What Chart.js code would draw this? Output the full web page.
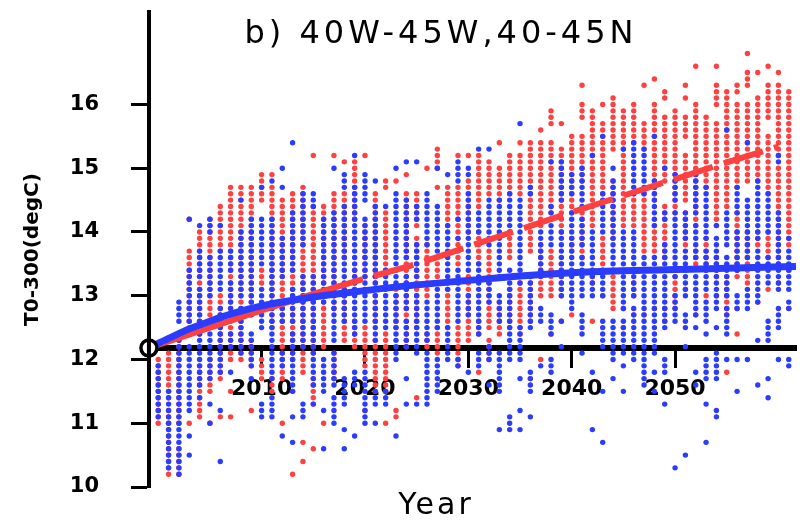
<!DOCTYPE html>
<html>
<head>
<meta charset="utf-8">
<script src="https://cdn.jsdelivr.net/npm/chart.js@4.4.1/dist/chart.umd.min.js"></script>
<style>
  html, body { margin: 0; padding: 0; background: #fff; }
  canvas { display: block; }
</style>
</head>
<body>
<canvas id="chart" width="800" height="522"></canvas>
<script>
// ensemble columns, one per year from firstYear; runs are in tenths of degC ("a-b" = every 0.1 from a to b)
const firstYear = 2000;
const redColumns = [
  "110-120", "102-112,114-121", "102-106,110-124", "110,124-137,142", "111-119,124-140",
  "110,115-120,126-142", "111,117-130,137-144", "111,115,120-147", "120-147", "112,119-123,127-147",
  "117-120,132-134,145-149", "115-117,125-147,149", "110,117-145", "102,115,120-146", "104,107,118-147",
  "106,113-117,121-144,152", "110,122-129,131-144", "117-121,128-146,152", "123-130,136-146,151", "122-126,131-134,142-151",
  "112,119-125,133-141,152", "115-123,126-146", "110,115-124,134-143,147-148", "111-112,125-131,148", "122-146,149",
  "114,125-139,141-146", "122-124,130-138,150", "121-125,133-136,147,150-153", "125-131,141-147", "119-125,135-147,152",
  "123-133,140-148,152", "118,124-126,135-140,144-152", "120-123,125-137,146-151", "124-129,145-150,154", "125-131,136-140,146-152",
  "124-132,146-152,154", "117,126-133,137-154", "120,130-138,141-154,156", "124,130-137,143-154,157-159", "126,130-135,140-153,157",
  "127,137-139,143-155", "136-143,148-155,158-160,163", "126,132-134,141-159", "130,134-139,146-157,160", "128-134,139-148,153-161",
  "125,128,141-159", "127,130-132,141-146,154-160", "127,137-146,153-157,163", "128,137-141,145-160,164", "126,128,136-144,148-158,161-162",
  "128-133,143-159", "131,138-143,145-152,155-158,161,163", "127,135-137,141-160,166", "130,134-139,147-158", "130,133-136,141-157,160-163,166",
  "118,127-133,144-162", "124,128,133-143,147-160,162-163", "132-140,148-160,163-165,168", "129,138-140,148-161,165", "131,136-140,146-155,158-163,166",
  "132,135-150,152-163,165", "128,134,138-162"
];
const blueColumns = [
  "111-119", "103-115", "102-123,126-129", "105,108,112-122,126-134,142", "114,116-131,133-137,141",
  "110,113,117-126,130-136,140-142", "104,112,118-128,131-137,141", "118,122-124,127-132,134-137", "121-128,130-140,145", "117,119-124,127-142",
  "111-113,125-131,135-142,147", "111-114,117-142,148", "108,119-121,126-128,133-139,147,150", "107,111,115-124,126-131,134-143,154", "111-113,122-133,138-146",
  "113,116-133,144-146", "106,112,115-120,129-142", "110-114,116-121,123-143,150", "106,109,113-117,126-144,147-149", "108,116-118,124-147,152",
  "110-118,126-142,145-149", "110,113-115,123-144,148", "113-115,125-134,144", "108,120-130,132-146,150", "113,117,122-126,128-133,136-145,151",
  "113,121-130,133-138,142-144,151", "113-121,123-129,138-146", "115-120,125-132,137-144,150", "120-125,131-141,149", "119-120,126-134,139,142,148-151",
  "118,127-130,134-146,149-150", "119-121,124-135,140-143,153", "116,120-122,129-132,138-145,153", "109,115-121,126-130,133-145", "109-111,120-134,140-146",
  "109,112,117,120-125,132-145,157", "111,115-118,125-133,146-147", "119,126-128,133-140", "118-120,124-127,138-144,151", "122,126,130-140,145-151",
  "128-143,146-149", "121,124-127,130-136,138-142,144-150", "109,118,130-140,152", "107,115,122-126,130-134,140-146,155", "117,120-126,134-148,150",
  "115,119,121-126,128-140,153", "120-128,130-140,146-154", "116-120,121-136,146-153", "115,118,121-136,141-148,155", "113,118-120,125-138,142-143,150",
  "103,126-130,133-143,145-149", "105,122,125-127,130-137,139-143", "116,118,125,127-133,136-141,143-149", "107,113,117-120,124,126-129,131-137,139-147", "111-112,117-121,125,128-139,141",
  "120,124-128,130-136,138-143,156", "115,120,128-130,134-140,143-147", "120,128-131,136-145,154", "116,123,129-137,139-148", "114,117,123-126,132-136,140-146",
  "120,125-128,131-143,151-152", "119-120,128-129,131-137,139"
];

// fitted curves
const redTrendYears = [1999.1, 2005, 2010, 2015, 2019.8, 2025, 2030, 2035, 2040, 2045, 2050, 2055, 2060];
const redTrend      = [12.18, 12.5, 12.77, 13.03, 13.26, 13.5, 13.77, 14.04, 14.31, 14.57, 14.83, 15.09, 15.34];
const blueTrendYears = [1999.1, 2001, 2003, 2005, 2007, 2010, 2015, 2020, 2025, 2030, 2035, 2040, 2045, 2050, 2055, 2061.7];
const blueTrend      = [12.18, 12.33, 12.48, 12.6, 12.71, 12.84, 12.98, 13.08, 13.17, 13.24, 13.31, 13.36, 13.39, 13.41, 13.43, 13.46];
const dashFrom = 2019.8;

const startYear = 1999.1;
const startValue = 12.18;
const xTicks = [2010, 2020, 2030, 2040, 2050];
const yTicks = [10, 11, 12, 13, 14, 15, 16];

const panelTitle = 'b) 40W-45W,40-45N';
const xTitle = 'Year';
const yTitle = 'T0-300(degC)';

const FONT = '"DejaVu Sans", sans-serif';

function expandColumns(cols) {
  const pts = [];
  cols.forEach((str, i) => {
    str.split(',').forEach(run => {
      const [a, b] = run.split('-').map(Number);
      const end = isNaN(b) ? a : b;
      for (let t = a; t <= end; t++) pts.push({ x: firstYear + i, y: t / 10 });
    });
  });
  return pts;
}
const pairs = (xs, ys) => xs.map((x, i) => ({ x, y: ys[i] }));

const panelText = {
  id: 'panelText',
  afterDraw(chart) {
    const { ctx, scales } = chart;
    const cx = scales.x.getPixelForValue(startYear);
    const cy = scales.y.getPixelForValue(startValue);
    ctx.save();
    // start marker
    ctx.beginPath();
    ctx.arc(cx, cy, 8, 0, Math.PI * 2);
    ctx.fillStyle = '#fff';
    ctx.fill();
    ctx.lineWidth = 3.5;
    ctx.strokeStyle = '#000';
    ctx.stroke();
    ctx.fillStyle = '#000';
    ctx.fillRect(cx - 2, cy - 9, 4, 18);
    // texts
    ctx.textAlign = 'center';
    ctx.textBaseline = 'alphabetic';
    ctx.font = '32px ' + FONT;
    ctx.letterSpacing = '4px';
    ctx.fillText(panelTitle, 441, 43);
    ctx.font = '30px ' + FONT;
    ctx.letterSpacing = '3px';
    ctx.fillText(xTitle, 436, 514);
    ctx.restore();
  }
};

new Chart(document.getElementById('chart'), {
  type: 'scatter',
  data: {
    datasets: [
      {
        type: 'line', data: pairs(blueTrendYears, blueTrend),
        borderColor: '#2a3cff', borderWidth: 7, pointRadius: 0,
        cubicInterpolationMode: 'monotone', fill: false, order: 1
      },
      {
        type: 'line', data: pairs(redTrendYears, redTrend),
        borderColor: '#ff4040', borderWidth: 6, pointRadius: 0, tension: 0, fill: false, order: 2,
        segment: {
          borderDash: c => c.p0.parsed.x >= dashFrom ? [41, 11.5] : undefined,
          borderDashOffset: c => c.p0.parsed.x >= dashFrom ? 41 : undefined
        }
      },
      {
        data: expandColumns(blueColumns), pointRadius: 2.7, pointBorderWidth: 0,
        pointBackgroundColor: '#2a3cff', order: 3
      },
      {
        data: expandColumns(redColumns), pointRadius: 2.7, pointBorderWidth: 0,
        pointBackgroundColor: '#ff4040', order: 4
      }
    ]
  },
  options: {
    responsive: false,
    animation: false,
    events: [],
    layout: { padding: { top: 12, bottom: 35, left: 0, right: 0 } },
    plugins: { legend: { display: false }, tooltip: { enabled: false } },
    scales: {
      x: {
        type: 'linear', min: 1999.106, max: 2061.7,
        position: { y: startValue },
        z: 1,
        afterFit: s => { s.height = 0; s.paddingLeft = 0; s.paddingRight = 0; },
        afterBuildTicks: s => { s.ticks = xTicks.map(v => ({ value: v })); },
        grid: { drawOnChartArea: false, drawTicks: true, tickLength: 17, tickWidth: 3, tickColor: '#000', color: '#000' },
        border: { display: true, color: '#000', width: 6 },
        ticks: {
          color: '#000', padding: 11, maxRotation: 0, autoSkip: false,
          font: { family: FONT, size: 22, weight: 'bold' },
          callback: v => String(v)
        }
      },
      y: {
        type: 'linear', min: 10, max: 17.45, position: 'left',
        z: 1,
        afterFit: s => { s.width = 149; s.paddingTop = 0; s.paddingBottom = 0; },
        afterBuildTicks: s => { s.ticks = yTicks.map(v => ({ value: v })); },
        grid: { drawOnChartArea: false, drawTicks: true, tickLength: 18, tickWidth: 3, tickColor: '#000', color: '#000' },
        border: { display: true, color: '#000', width: 4 },
        ticks: {
          color: '#000', padding: 32, autoSkip: false,
          font: { family: FONT, size: 21, weight: 'bold' },
          callback: v => String(v)
        },
        title: {
          display: true, text: yTitle, color: '#000',
          font: { family: FONT, size: 20, weight: 'bold' },
          padding: { top: 21, bottom: 0 }
        }
      }
    }
  },
  plugins: [panelText]
});
</script>
</body>
</html>
